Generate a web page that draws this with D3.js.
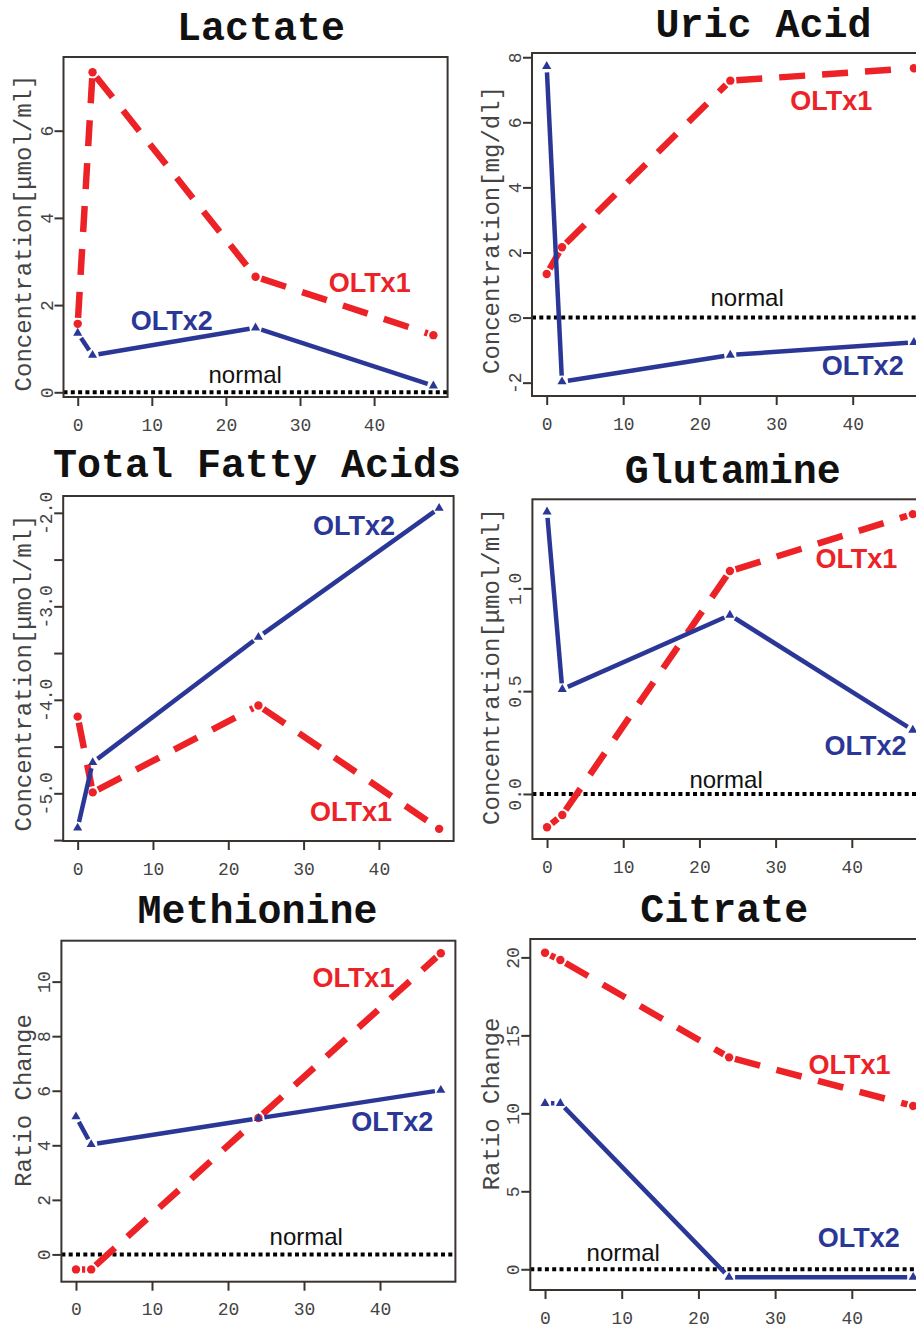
<!DOCTYPE html>
<html><head><meta charset="utf-8">
<script src="https://cdn.jsdelivr.net/npm/d3@7"></script>
<style>body{margin:0;background:#fff} svg{display:block}</style>
</head><body><svg id="c" width="916" height="1328"></svg>
<script>
// ---------- data ----------
const times = [0, 2, 24, 48];
const lactateOLTx1 = [1.57, 7.34, 2.65, 1.31];
const lactateOLTx2 = [1.36, 0.85, 1.48, 0.15];
const uricOLTx1 = [1.34, 2.16, 7.28, 7.66];
const uricOLTx2 = [7.72, -1.97, -1.15, -0.76];
const tfaOLTx1 = [-4.18, -4.99, -4.06, -5.38];
const tfaOLTx2 = [-5.37, -4.67, -3.33, -1.95];
const glutOLTx1 = [-0.162, -0.102, 1.084, 1.361];
const glutOLTx2 = [1.372, 0.509, 0.870, 0.311];
const methOLTx1 = [-0.55, -0.55, 5.0, 11.04];
const methOLTx2 = [5.05, 4.03, 4.99, 6.02];
const citOLTx1 = [20.3, 19.83, 13.59, 10.47];
const citOLTx2 = [10.64, 10.64, -0.51, -0.51];

const titles = ["Lactate", "Uric Acid", "Total Fatty Acids", "Glutamine", "Methionine", "Citrate"];
const yLabels = ["Concentration[\u03bcmol/ml]", "Concentration[mg/dl]", "Concentration[\u03bcmol/ml]",
                 "Concentration[\u03bcmol/ml]", "Ratio Change", "Ratio Change"];
const xTicks = [0, 10, 20, 30, 40];
const lactateYTicks = [0, 2, 4, 6];
const uricYTicks = [-2, 0, 2, 4, 6, 8];
const tfaYTicks = [-5.5, -5, -4.5, -4, -3.5, -3, -2.5, -2];
const tfaYLabelled = [-5, -4, -3, -2];
const glutYTicks = [0, 0.5, 1.0];
const methYTicks = [0, 2, 4, 6, 8, 10];
const citYTicks = [0, 5, 10, 15, 20];
const seriesNames = ["OLTx1", "OLTx2"];
const normalLabel = "normal";

// ---------- layout (pixels / axis limits / label anchors in data units) ----------
const panels = [
  {title: titles[0], ylab: yLabels[0], s1: lactateOLTx1, s2: lactateOLTx2, yt: lactateYTicks, yl: lactateYTicks, fmt: d3.format("d"),
   box: [63.5, 57, 447.6, 397], ydom: [-0.108, 7.69], titleX: 261, titleY: 40, ylabX: 31, ylabY: 233,
   lab1: [39.4, 2.30], lab2: [12.7, 1.43], labN: [22.6, 0.21], normal: true},
  {title: titles[1], ylab: yLabels[1], s1: uricOLTx1, s2: uricOLTx2, yt: uricYTicks, yl: uricYTicks, fmt: d3.format("d"),
   box: [532, 53, 928.6, 396], ydom: [-2.41, 8.13], titleX: 763.5, titleY: 37, ylabX: 499, ylabY: 230,
   lab1: [37.2, 6.38], lab2: [41.3, -1.76], labN: [26.2, 0.36], normal: true},
  {title: titles[2], ylab: yLabels[2], s1: tfaOLTx1, s2: tfaOLTx2, yt: tfaYTicks, yl: tfaYLabelled, fmt: d3.format(".1f"),
   box: [63.2, 496, 453.6, 841], ydom: [-5.51, -1.82], titleX: 257, titleY: 477, ylabX: 31, ylabY: 673,
   lab1: [36.3, -5.30], lab2: [36.7, -2.24], labN: null, normal: false},
  {title: titles[3], ylab: yLabels[3], s1: glutOLTx1, s2: glutOLTx2, yt: glutYTicks, yl: glutYTicks, fmt: d3.format(".1f"),
   box: [532.4, 499.3, 927.4, 839], ydom: [-0.219, 1.433], titleX: 732.7, titleY: 482.7, ylabX: 499, ylabY: 666.5,
   lab1: [40.6, 1.099], lab2: [41.8, 0.190], labN: [23.5, 0.029], normal: true},
  {title: titles[4], ylab: yLabels[4], s1: methOLTx1, s2: methOLTx2, yt: methYTicks, yl: methYTicks, fmt: d3.format("d"),
   box: [61.4, 940.7, 455.4, 1281.7], ydom: [-1.0, 11.5], titleX: 257.5, titleY: 923.3, ylabX: 31, ylabY: 1100.5,
   lab1: [36.5, 9.81], lab2: [41.6, 4.53], labN: [30.3, 0.34], normal: true},
  {title: titles[5], ylab: yLabels[5], s1: citOLTx1, s2: citOLTx2, yt: citYTicks, yl: citYTicks, fmt: d3.format("d"),
   box: [530.3, 939, 927.9, 1290], ydom: [-1.33, 21.18], titleX: 724.3, titleY: 921.7, ylabX: 499, ylabY: 1104,
   lab1: [39.7, 12.52], lab2: [40.9, 1.45], labN: [10.2, 0.53], normal: true}
];

const RED = "#ec2227", BLUE = "#2b3796", AXIS = "#3a3431";
const MONO = "'Courier New','Liberation Mono',monospace";
const SANS = "Arial,'Liberation Sans',sans-serif";
const xDomain = [-1.92, 49.92];
const GAP = 6;

const svg = d3.select("#c");
svg.append("rect").attr("width", 916).attr("height", 1328).attr("fill", "#fff");

function gapped(pts, gap) {
  const out = [];
  for (let i = 0; i < pts.length - 1; i++) {
    const [x1, y1] = pts[i], [x2, y2] = pts[i + 1];
    const dx = x2 - x1, dy = y2 - y1, L = Math.hypot(dx, dy);
    if (L <= 2 * gap) continue;
    const ux = dx / L, uy = dy / L;
    out.push([x1 + ux * gap, y1 + uy * gap, x2 - ux * gap, y2 - uy * gap]);
  }
  return out;
}

panels.forEach((p, i) => {
  const [L, T, R, B] = p.box;
  const x = d3.scaleLinear().domain(xDomain).range([L, R]);
  const y = d3.scaleLinear().domain(p.ydom).range([B, T]);
  const g = svg.append("g");
  const clipId = "clip" + i;
  g.append("clipPath").attr("id", clipId).append("rect")
    .attr("x", L).attr("y", T).attr("width", R - L).attr("height", B - T);
  const plot = g.append("g").attr("clip-path", `url(#${clipId})`);

  // normal reference line
  if (p.normal) {
    plot.append("line").attr("x1", L).attr("x2", R).attr("y1", y(0)).attr("y2", y(0))
      .attr("stroke", "#000").attr("stroke-width", 4).attr("stroke-dasharray", "4,3.3");
  }

  // series
  const drawSeries = (vals, color, dashed, marker) => {
    const pts = times.map((t, k) => [x(t), y(vals[k])]);
    gapped(pts, GAP).forEach(s => {
      plot.append("line").attr("x1", s[0]).attr("y1", s[1]).attr("x2", s[2]).attr("y2", s[3])
        .attr("stroke", color).attr("stroke-width", dashed ? 6.5 : 4.5)
        .attr("stroke-dasharray", dashed ? "26,17" : null)
        .attr("stroke-linecap", "butt");
    });
    if (marker === "circle") {
      plot.selectAll(null).data(pts).enter().append("circle")
        .attr("cx", d => d[0]).attr("cy", d => d[1]).attr("r", 4.2).attr("fill", color);
    } else {
      plot.selectAll(null).data(pts).enter().append("path")
        .attr("d", d3.symbol(d3.symbolTriangle, 36))
        .attr("transform", d => `translate(${d[0]},${d[1]})`).attr("fill", color);
    }
  };
  drawSeries(p.s1, RED, true, "circle");
  drawSeries(p.s2, BLUE, false, "triangle");

  // box
  g.append("rect").attr("x", L).attr("y", T).attr("width", R - L).attr("height", B - T)
    .attr("fill", "none").attr("stroke", AXIS).attr("stroke-width", 2);

  // x axis
  const xa = g.append("g").attr("transform", `translate(0,${B})`)
    .call(d3.axisBottom(x).tickValues(xTicks).tickSize(9).tickFormat(d3.format("d")));
  xa.select(".domain").remove();
  xa.selectAll(".tick line").attr("stroke", AXIS).attr("stroke-width", 2);
  xa.selectAll(".tick text").attr("y", 33.5).attr("dy", 0)
    .attr("font-family", MONO).attr("font-size", 18).attr("fill", "#444");

  // y axis
  const ya = g.append("g").attr("transform", `translate(${L},0)`)
    .call(d3.axisLeft(y).tickValues(p.yt).tickSize(9)
      .tickFormat(v => p.yl.some(w => Math.abs(w - v) < 1e-9) ? p.fmt(v).replace("\u2212", "-") : ""));
  ya.select(".domain").remove();
  ya.selectAll(".tick line").attr("stroke", AXIS).attr("stroke-width", 2);
  ya.selectAll(".tick text").attr("transform", "rotate(-90)").attr("x", 0).attr("y", -11).attr("dy", 0)
    .attr("text-anchor", "middle").attr("font-family", MONO).attr("font-size", 18).attr("fill", "#444");

  // title
  g.append("text").attr("x", p.titleX).attr("y", p.titleY).attr("text-anchor", "middle")
    .attr("font-family", MONO).attr("font-weight", "bold").attr("font-size", 40).attr("fill", "#111")
    .text(p.title);

  // y label
  g.append("text").attr("transform", `translate(${p.ylabX},${p.ylabY}) rotate(-90)`)
    .attr("text-anchor", "middle").attr("font-family", MONO).attr("font-size", 24).attr("fill", "#444")
    .text(p.ylab);

  // series labels
  g.append("text").attr("x", x(p.lab1[0])).attr("y", y(p.lab1[1])).attr("text-anchor", "middle")
    .attr("font-family", SANS).attr("font-weight", "bold").attr("font-size", 27).attr("fill", RED).text(seriesNames[0]);
  g.append("text").attr("x", x(p.lab2[0])).attr("y", y(p.lab2[1])).attr("text-anchor", "middle")
    .attr("font-family", SANS).attr("font-weight", "bold").attr("font-size", 27).attr("fill", BLUE).text(seriesNames[1]);
  if (p.labN) {
    g.append("text").attr("x", x(p.labN[0])).attr("y", y(p.labN[1])).attr("text-anchor", "middle")
      .attr("font-family", SANS).attr("font-size", 24).attr("fill", "#111").text(normalLabel);
  }
});
</script></body></html>
